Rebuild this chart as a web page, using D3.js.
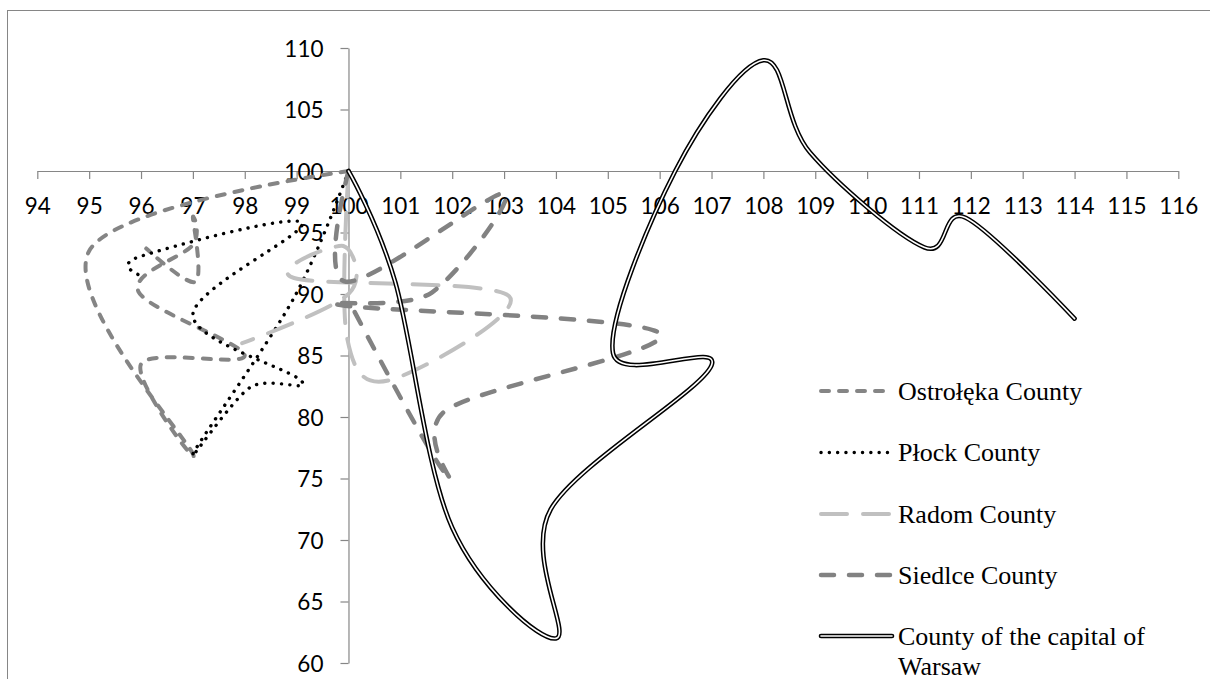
<!DOCTYPE html>
<html>
<head>
<meta charset="utf-8">
<script src="https://cdn.jsdelivr.net/npm/d3@7"></script>
<style>
  html, body { margin: 0; padding: 0; background: #fff; }
  svg { display: block; }
</style>
</head>
<body>
<div id="chart"></div>
<script>
// values, [x, y] per point, in order
const ostroleka = [[100, 100], [95, 93.5], [97, 77], [96, 84.3], [98, 85], [95.95, 90.2], [97, 94], [97, 96.2], [97.05, 91], [96.1, 93.7]];
const plock = [[100, 100], [98.95, 89.7], [97, 77], [98.1, 82.4], [99.1, 82.9], [97, 88.3], [99.1, 95.8], [95.95, 93], [96.05, 91.4]];
const radom = [[100, 100], [99.97, 86.5], [100.8, 83], [103.1, 89.8], [98.95, 91.3], [99.9, 93.9], [100, 90], [97.95, 86]];
const siedlce = [[100, 100], [99.95, 91], [103, 98.2], [101.6, 90.1], [99.85, 89.1], [106, 86.8], [101.9, 80.6], [101.9, 75.2], [100, 89.5]];
const warsaw = [[100, 100], [100.9, 91], [102, 71], [104, 62], [103.9, 72.5], [107, 84.2], [105.1, 85.2], [106.3, 100], [108, 109], [108.9, 101.5], [111.1, 93.8], [111.9, 96.2], [114, 88]];

const seriesNames = ['Ostrołęka County', 'Płock County', 'Radom County', 'Siedlce County', 'County of the capital of Warsaw'];
const xTicks = d3.range(94, 117, 1);
const yTicks = [60, 65, 70, 75, 80, 85, 90, 95, 100, 105, 110];

const cfg = {
  width: 1210,
  height: 679,
  axisColor: '#868686',
  tickSize: 8,
  axisFont: 'Lato, "Open Sans", sans-serif',
  legendFont: '"Liberation Serif", "Times New Roman", serif',
};

// line looks, one per series
const styles = [
  { color: '#858585', width: 4, dash: '8 10', cap: 'round' },
  { color: '#000', width: 3.4, dash: '0.1 8.2', cap: 'round' },
  { color: '#c0c0c0', width: 4, dash: '26 16', cap: 'round' },
  { color: '#828282', width: 4.5, dash: '13 15', cap: 'round' },
  { color: '#000', width: 4.6, dash: null, cap: 'round', double: true },
];

const svg = d3.select('#chart')
  .append('svg')
  .attr('width', cfg.width)
  .attr('height', cfg.height);

svg.append('rect')
  .attr('width', cfg.width)
  .attr('height', cfg.height)
  .attr('fill', '#fff');

// chart border (runs past the bottom / right of the picture)
svg.append('rect')
  .attr('x', 7.5)
  .attr('y', 10.5)
  .attr('width', 1220)
  .attr('height', 720)
  .attr('fill', 'none')
  .attr('stroke', cfg.axisColor)
  .attr('stroke-width', 1);

const x = d3.scaleLinear().domain([94, 116]).range([37.3, 1178.3]);
const y = d3.scaleLinear().domain([60, 110]).range([663, 48]);

// x axis crosses at y = 100
const xAxis = svg.append('g')
  .attr('transform', `translate(0,${y(100)})`)
  .call(d3.axisBottom(x).tickValues(xTicks).tickSize(cfg.tickSize).tickSizeOuter(0).tickPadding(19));

// y axis crosses at x = 100
const yAxis = svg.append('g')
  .attr('transform', `translate(${x(100)},0)`)
  .call(d3.axisLeft(y).tickValues(yTicks).tickSize(cfg.tickSize).tickSizeOuter(0).tickPadding(17));

[xAxis, yAxis].forEach((g) => {
  g.select('.domain').attr('stroke', cfg.axisColor).attr('stroke-width', 1.2);
  g.selectAll('.tick line').attr('stroke', cfg.axisColor).attr('stroke-width', 1.2);
  g.selectAll('.tick text')
    .attr('fill', '#000')
    .style('font-family', cfg.axisFont)
    .style('font-size', '22.5px');
});
yAxis.selectAll('.tick text').attr('dy', '0.36em');

const line = d3.line()
  .x(d => x(d[0]))
  .y(d => y(d[1]))
  .curve(d3.curveCatmullRom.alpha(0));

function styleLine(sel, s) {
  sel.attr('fill', 'none')
    .attr('stroke', s.color)
    .attr('stroke-width', s.width)
    .attr('stroke-linecap', s.cap)
    .attr('stroke-linejoin', 'round')
    .attr('stroke-dasharray', s.dash);
}

function drawDouble(g, d, s) {
  styleLine(g.append('path').attr('d', d), s);
  g.append('path').attr('d', d)
    .attr('fill', 'none')
    .attr('stroke', '#fff')
    .attr('stroke-width', 1.6)
    .attr('stroke-linecap', 'round')
    .attr('stroke-linejoin', 'round');
}

const allSeries = [ostroleka, plock, radom, siedlce, warsaw];
const plot = svg.append('g');

allSeries.forEach((data, i) => {
  const s = styles[i];
  if (s.double) {
    drawDouble(plot.append('g'), line(data), s);
  } else {
    styleLine(plot.append('path').attr('d', line(data)), s);
  }
});

// legend
const legendY = [391, 452.5, 514, 575, 636];
const legend = svg.append('g');
seriesNames.forEach((name, i) => {
  const s = styles[i];
  const ly = legendY[i];
  const d = `M821,${ly}H892`;
  if (s.double) {
    drawDouble(legend.append('g'), d, s);
  } else {
    styleLine(legend.append('path').attr('d', d), s);
  }
  const t = legend.append('text')
    .attr('x', 898)
    .attr('y', ly + 8.5)
    .style('font-family', cfg.legendFont)
    .style('font-size', '26px')
    .attr('fill', '#000');
  if (i === 4) {
    t.append('tspan').attr('x', 898).text('County of the capital of');
    t.append('tspan').attr('x', 898).attr('dy', 30).text('Warsaw');
  } else {
    t.text(name);
  }
});
</script>
</body>
</html>
